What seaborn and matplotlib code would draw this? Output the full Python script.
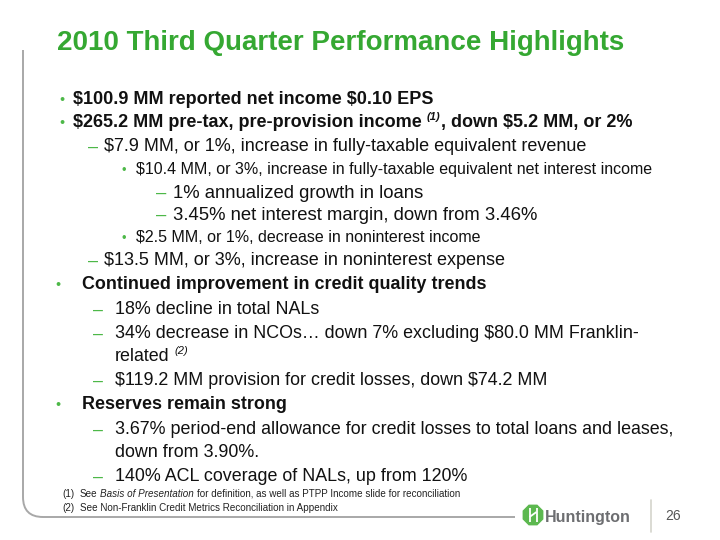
import matplotlib
matplotlib.use("Agg")
import matplotlib.pyplot as plt
from matplotlib import font_manager
from matplotlib.path import Path
from matplotlib.patches import PathPatch, RegularPolygon
import numpy as np
import seaborn as sns

# slide content
title = "2010 Third Quarter Performance Highlights"

# one entry per printed line; pieces are (text, kind): n normal, i italic, s superscript
line_levels = ["b1", "b1", "d1", "b2", "d2", "d2", "b2", "d1",
               "B", "D", "D", "C", "D", "B", "D", "C", "D"]
line_texts = [
    [("$100.9 MM reported net income $0.10 EPS", "n")],
    [("$265.2 MM pre-tax, pre-provision income ", "n"), ("(1)", "s"), (", down $5.2 MM, or 2%", "n")],
    [("$7.9 MM, or 1%, increase in fully-taxable equivalent revenue", "n")],
    [("$10.4 MM, or 3%, increase in fully-taxable equivalent net interest income", "n")],
    [("1% annualized growth in loans", "n")],
    [("3.45% net interest margin, down from 3.46%", "n")],
    [("$2.5 MM, or 1%, decrease in noninterest income", "n")],
    [("$13.5 MM, or 3%, increase in noninterest expense", "n")],
    [("Continued improvement in credit quality trends", "n")],
    [("18% decline in total NALs", "n")],
    [("34% decrease in NCOs\u2026 down 7% excluding $80.0 MM Franklin-", "n")],
    [("related ", "n"), ("(2)", "s")],
    [("$119.2 MM provision for credit losses, down $74.2 MM", "n")],
    [("Reserves remain strong", "n")],
    [("3.67% period-end allowance for credit losses to total loans and leases,", "n")],
    [("down from 3.90%.", "n")],
    [("140% ACL coverage of NALs, up from 120%", "n")],
]
footnote_marks = ["(1)", "(2)"]
footnote_texts = [
    [("See ", "n"), ("Basis of Presentation", "i"),
     (" for definition, as well as PTPP Income slide for reconciliation", "n")],
    [("See Non-Franklin Credit Metrics Reconciliation in Appendix", "n")],
]
logo_name = "Huntington"
page_number = "26"

# layout, in pixels from the top left
line_y = [98, 121, 145, 168, 191, 213, 236, 259, 283, 308, 332, 355, 379, 403, 428, 451, 475]
line_right = [433, 630, 590, 654, 443, 515, 480, 503, 487, 325, 643, 188, 549, 286, 677, 257, 469]
levels = {  # marker, marker x, text x, bold
    "b1": ("\u2022", 62, 73, True),
    "d1": ("\u2013", 93, 104, False),
    "b2": ("\u2022", 124, 136, False),
    "d2": ("\u2013", 161, 173, False),
    "B": ("\u2022", 58, 82, True),
    "D": ("\u2013", 98, 115, False),
    "C": ("", 0, 115, False),
}

GREEN = "#35a832"
BULLET = "#4db848"
TEXT = "#111111"
GREY = "#a8a8a8"
PX = 100 / 72

sns.set_theme(style="white")
plt.rcParams["font.family"] = ["Liberation Sans", "DejaVu Sans"]
plt.rcParams["text.parse_math"] = False
names = {f.name for f in font_manager.fontManager.ttflist}
body = ["Liberation Sans", "DejaVu Sans"]
logo_font = ["Liberation Sans Narrow", "Liberation Sans"] if "Liberation Sans Narrow" in names else body

fig = plt.figure(figsize=(7.2, 5.4), dpi=100)
ax = fig.add_axes([0, 0, 1, 1])
ax.set_xlim(0, 720)
ax.set_ylim(540, 0)
ax.axis("off")
renderer = fig.canvas.get_renderer()


def put(x, y, pieces, size, bold, color, family=body):
    arts = []
    for s, kind in pieces:
        lead = len(s) - len(s.lstrip(" "))
        trail = len(s) - len(s.rstrip(" "))
        x += lead * 0.278 * size * PX
        fs = size * 0.62 if kind == "s" else size
        dy = 0.42 * size * PX if kind == "s" else 0
        t = ax.text(x, y - dy, s.strip(" "), fontsize=fs, family=family,
                    fontweight="bold" if bold else "normal",
                    fontstyle="italic" if kind in "is" else "normal",
                    color=color, ha="left", va="baseline", parse_math=False)
        x = t.get_window_extent(renderer).x1 + trail * 0.278 * size * PX
        arts.append(t)
    return x, arts


def fit(x, pieces, right, bold, family=body):
    end, arts = put(x, 0, pieces, 10, bold, "k", family)
    for a in arts:
        a.remove()
    return 10 * (right - x) / (end - x)


# title
ts = fit(57, [(title, "n")], 627, True)
put(57, 50, [(title, "n")], ts, True, GREEN)

# body: one font size per level, from the widths of its lines
fitted = {}
for lev, pieces, right in zip(line_levels, line_texts, line_right):
    key = "D" if lev == "C" else lev
    fitted.setdefault(key, []).append(fit(levels[lev][2], pieces, right, levels[lev][3]))
size_of = {k: float(np.median(v)) for k, v in fitted.items()}
size_of["C"] = size_of["D"]

for lev, pieces, yc in zip(line_levels, line_texts, line_y):
    marker, mx, tx, bold = levels[lev]
    s = size_of[lev]
    base = yc + 0.36 * s * PX
    if marker:
        ax.text(mx, base, marker, fontsize=s * (0.8 if marker == "\u2022" else 1.0),
                color=BULLET, ha="center", va="baseline")
    put(tx, base, pieces, s, bold, TEXT)

# footnotes
fn_right = [462, 341]
fn_y = [493, 507]
fs_ = float(np.median([fit(80, p, r, False) for p, r in zip(footnote_texts, fn_right)]))
for mark, pieces, yc in zip(footnote_marks, footnote_texts, fn_y):
    base = yc + 0.36 * fs_ * PX
    ax.text(62, base, mark, fontsize=fs_, color="#222222", va="baseline")
    put(80, base, pieces, fs_, False, "#222222")

# rounded frame on the left and bottom
frame = Path([(23, 50), (23, 497), (23, 517), (43, 517), (515, 517)],
             [Path.MOVETO, Path.LINETO, Path.CURVE3, Path.CURVE3, Path.LINETO])
ax.add_patch(PathPatch(frame, fill=False, edgecolor=GREY, lw=1.4))
ax.plot([651, 651], [500, 532], color="#d4d4cc", lw=1.2)

# logo
ax.add_patch(RegularPolygon((533, 515), numVertices=8, radius=10.5,
                            orientation=np.pi / 8, color="#5cb84f"))
for xs, ys in [([529.5, 529.5], [508, 522]), ([536.5, 536.5], [508, 522]),
               ([529.5, 536.5], [517, 512])]:
    ax.plot(xs, ys, color="white", lw=1.3, solid_capstyle="butt")
ls = fit(545, [(logo_name, "n")], 630, True, logo_font)
put(545, 522, [(logo_name, "n")], ls, True, "#6d6e71", logo_font)
ax.text(673, 520, page_number, fontsize=10, color="#555555", ha="center", va="baseline")

fig.savefig("out.png", dpi=100)
